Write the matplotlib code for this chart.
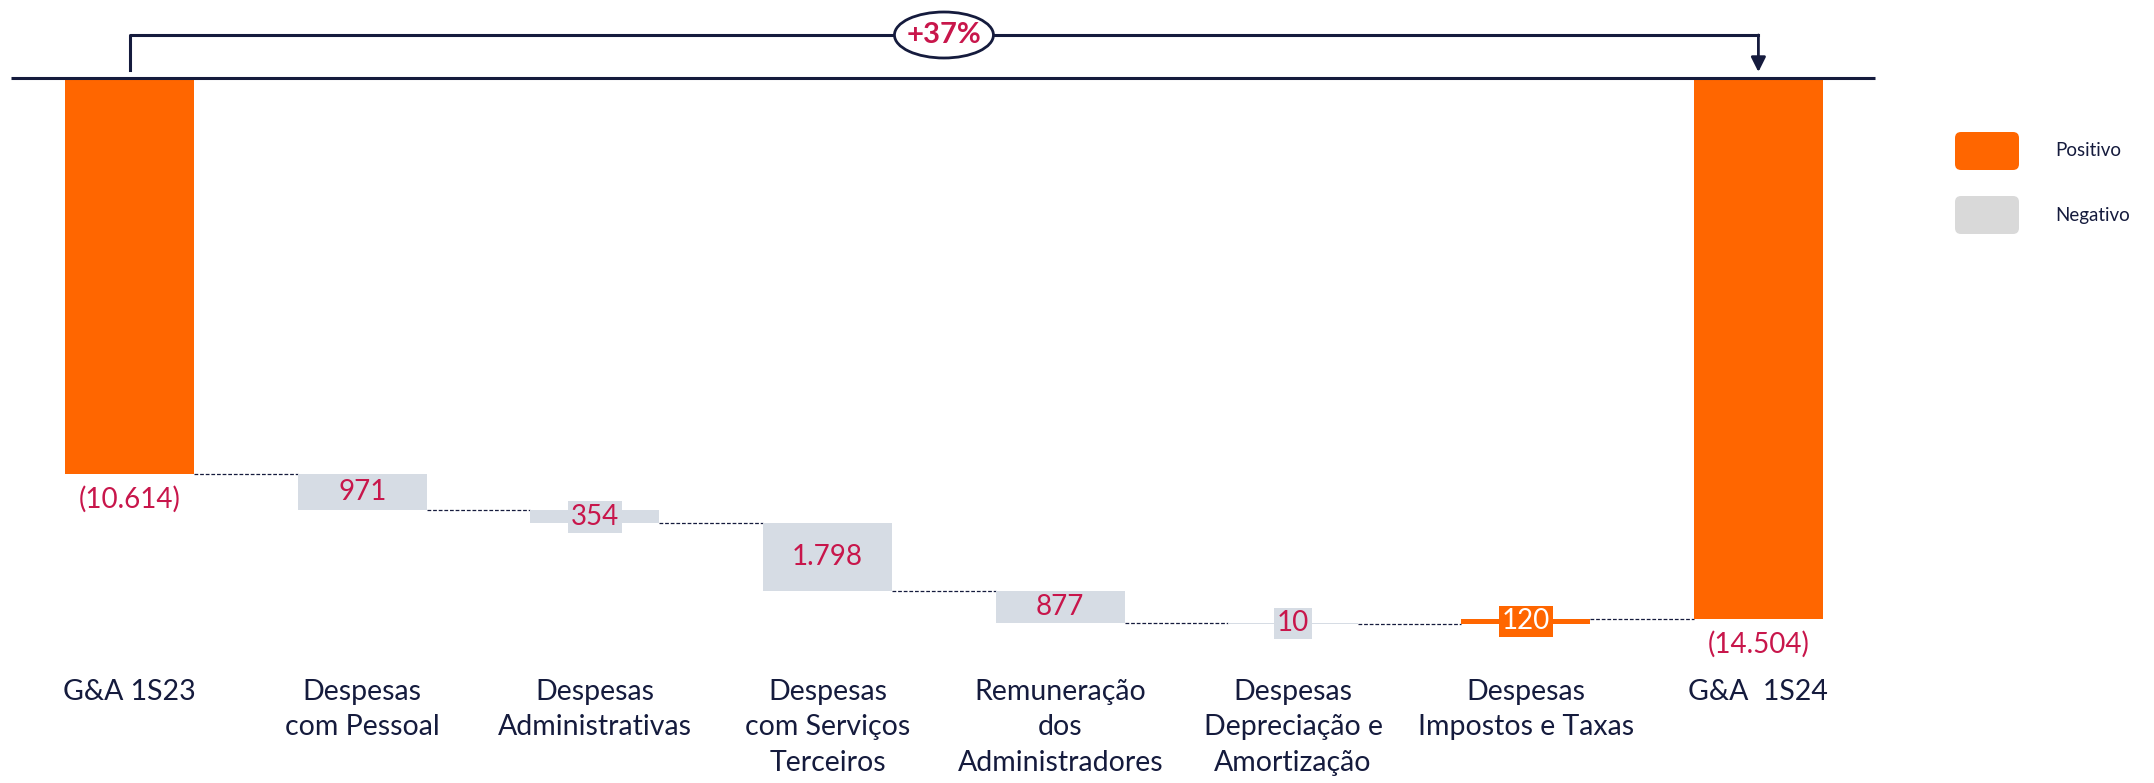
import numpy as np
import matplotlib.pyplot as plt
from matplotlib.patches import FancyBboxPatch, Ellipse
from matplotlib.transforms import IdentityTransform

plt.rcParams['font.family'] = ['Lato', 'DejaVu Sans']

categories = ["G&A 1S23", "Despesas\ncom Pessoal", "Despesas\nAdministrativas",
              "Despesas\ncom Serviços\nTerceiros", "Remuneração\ndos\nAdministradores",
              "Despesas\nDepreciação e\nAmortização", "Despesas\nImpostos e Taxas",
              "G&A  1S24"]
start_total = 10614
end_total = 14504
deltas = [971, 354, 1798, 877, 10, -120]
delta_labels = ["971", "354", "1.798", "877", "10", "120"]
total_labels = ["(10.614)", "(14.504)"]
change_label = "+37%"
legend_labels = ["Positivo", "Negativo"]

ORANGE = "#FF6600"
GRAY = "#D6DCE4"
LEG_GRAY = "#D9D9D9"
CRIMSON = "#C8164B"
NAVY = "#151B3D"

W, H, DPI = 2154, 783, 100
fig = plt.figure(figsize=(W / DPI, H / DPI), dpi=DPI)
ax = fig.add_axes([0, 0, 1, 1])

# layout in pixels (from top-left)
x0_px, step_px = 129.5, 232.7
base_px, unit_px = 78, 396 / start_total
ax.set_xlim(-x0_px / step_px, (W - x0_px) / step_px)
ax.set_ylim(-(H - base_px) / unit_px, base_px / unit_px)
ax.axis('off')


def py(p):  # pixel row -> data y
    return (base_px - p) / unit_px


bw = 0.555
n = len(categories)

# totals hang down from the zero line
ax.bar(0, -start_total, width=bw, color=ORANGE, zorder=2)
ax.bar(n - 1, -end_total, width=bw, color=ORANGE, zorder=2)
for i, (tot, lab) in zip([0, n - 1], [(start_total, total_labels[0]), (end_total, total_labels[1])]):
    ax.text(i, -tot - 25 / unit_px, lab, ha='center', va='center', fontsize=20, color=CRIMSON)

level = start_total
levels = [level]
for k, (d, lab) in enumerate(zip(deltas, delta_labels)):
    i = k + 1
    col = GRAY if d > 0 else ORANGE
    ax.bar(i, -d, bottom=-level, width=bw, color=col, zorder=2)
    mid = -(level + d / 2)
    ax.text(i, mid, lab, ha='center', va='center', fontsize=20,
            color=CRIMSON if d > 0 else 'white', zorder=3,
            bbox=dict(boxstyle='square,pad=0.1', fc=col, ec='none'))
    level += d
    levels.append(level)

# dashed connectors
for i, lv in enumerate(levels):
    ax.plot([i + bw / 2, i + 1 - bw / 2], [-lv, -lv], ls=(0, (3, 1.5)), lw=0.9, color=NAVY, zorder=1)

# zero line
ax.plot([-0.51, n - 0.5], [0, 0], color=NAVY, lw=2.2, zorder=3, solid_capstyle='butt')

# bracket with change
y_br = py(35)
ax.plot([0, 0, n - 1], [py(70), y_br, y_br], color=NAVY, lw=2.2, zorder=3)
ax.annotate('', xy=(n - 1, py(72)), xytext=(n - 1, y_br),
            arrowprops=dict(arrowstyle='-|>', color=NAVY, lw=2, mutation_scale=22,
                            shrinkA=0, shrinkB=0))
x_mid = (n - 1) / 2
ax.add_patch(Ellipse((x_mid, y_br), 99 / step_px, 46 / unit_px,
                     fc='white', ec=NAVY, lw=2, zorder=4))
ax.text(x_mid, y_br, change_label, ha='center', va='center', fontsize=21,
        fontweight='bold', color=CRIMSON, zorder=5)

# category labels
for i, cat in enumerate(categories):
    ax.text(i, py(679), cat, ha='center', va='top', fontsize=20.5, color=NAVY, linespacing=1.45)

# legend
for j, (lab, col) in enumerate(zip(legend_labels, [ORANGE, LEG_GRAY])):
    top = 132 + j * 64
    fig.add_artist(FancyBboxPatch((1955, H - top - 38), 64, 38,
                                  boxstyle='round,pad=0,rounding_size=6',
                                  fc=col, ec='none', transform=IdentityTransform()))
    fig.text(2055 / W, 1 - (top + 19) / H, lab, fontsize=13.5, color=NAVY, va='center')

fig.savefig('out.png', dpi=DPI)
